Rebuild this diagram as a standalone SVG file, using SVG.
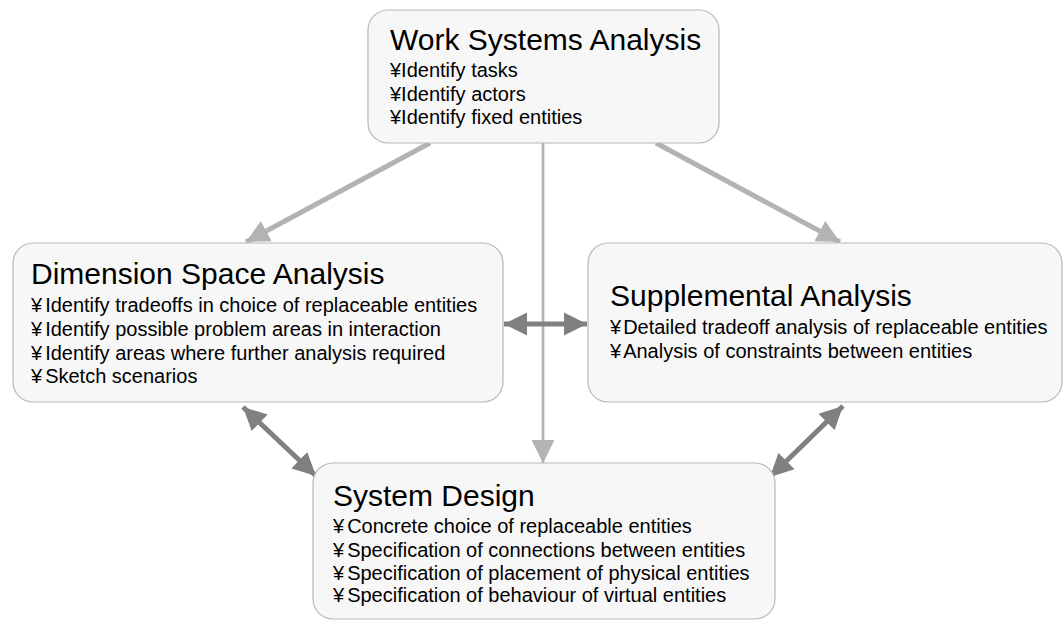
<svg xmlns="http://www.w3.org/2000/svg" width="1064" height="621" viewBox="0 0 1064 621">
<style>
.box{fill:#f7f7f7;stroke:#b8b8b8;stroke-width:1.2}
.t{font-family:"Liberation Sans",Arial,sans-serif;fill:#000}
.h{font-size:30px}
.b{font-size:20px}
.lc{stroke:#b3b3b3;fill:none}
.dc{stroke:#808080;fill:none;stroke-width:5}
</style>
<defs>
<marker id="al" viewBox="0 0 10 10" refX="10" refY="5" markerWidth="4.6" markerHeight="5" markerUnits="strokeWidth" orient="auto"><path d="M0,0 L10,5 L0,10 z" fill="#b3b3b3"/></marker>
<marker id="alt" viewBox="0 0 10 10" refX="10" refY="5" markerWidth="9" markerHeight="8.5" markerUnits="strokeWidth" orient="auto"><path d="M0,0 L10,5 L0,10 z" fill="#b3b3b3"/></marker>
<marker id="ad" viewBox="0 0 10 10" refX="10" refY="5" markerWidth="4.6" markerHeight="5.2" markerUnits="strokeWidth" orient="auto-start-reverse"><path d="M0,0 L10,5 L0,10 z" fill="#808080"/></marker>
</defs>
<g id="connectors">
<line class="lc" x1="430" y1="143" x2="246" y2="242" stroke-width="5" marker-end="url(#al)"/>
<line class="lc" x1="656" y1="143" x2="840" y2="242" stroke-width="5" marker-end="url(#al)"/>
<line class="lc" x1="543" y1="143" x2="543" y2="463" stroke-width="2.7" marker-end="url(#alt)"/>
<line class="dc" x1="504" y1="324" x2="587" y2="324" marker-start="url(#ad)" marker-end="url(#ad)"/>
<line class="dc" x1="243" y1="407" x2="316" y2="476" marker-start="url(#ad)" marker-end="url(#ad)"/>
<line class="dc" x1="843" y1="406" x2="770" y2="477" marker-start="url(#ad)" marker-end="url(#ad)"/>
</g>
<g id="work">
<rect class="box" x="368" y="10" width="351" height="133" rx="20"/>
<text class="t h" x="390" y="50">Work Systems Analysis</text>
<text class="t b" x="390" y="77">¥Identify tasks</text>
<text class="t b" x="390" y="100.5">¥Identify actors</text>
<text class="t b" x="390" y="124">¥Identify fixed entities</text>
</g>
<g id="dimension">
<rect class="box" x="13" y="243" width="490" height="159" rx="20"/>
<text class="t h" x="31" y="284">Dimension Space Analysis</text>
<text class="t b" x="31" y="312">¥<tspan dx="3">Identify tradeoffs in choice of replaceable entities</tspan></text>
<text class="t b" x="31" y="336">¥<tspan dx="3">Identify possible problem areas in interaction</tspan></text>
<text class="t b" x="31" y="360">¥<tspan dx="3">Identify areas where further analysis required</tspan></text>
<text class="t b" x="31" y="383">¥<tspan dx="3">Sketch scenarios</tspan></text>
</g>
<g id="supplemental">
<rect class="box" x="588" y="243" width="474" height="159" rx="20"/>
<text class="t h" x="610" y="306">Supplemental Analysis</text>
<text class="t b" x="610" y="334">¥<tspan dx="2">Detailed tradeoff analysis of replaceable entities</tspan></text>
<text class="t b" x="610" y="358">¥<tspan dx="2">Analysis of constraints between entities</tspan></text>
</g>
<g id="design">
<rect class="box" x="313" y="463" width="462" height="156" rx="20"/>
<text class="t h" x="333" y="506">System Design</text>
<text class="t b" x="333" y="533">¥<tspan dx="3">Concrete choice of replaceable entities</tspan></text>
<text class="t b" x="333" y="557">¥<tspan dx="3">Specification of connections between entities</tspan></text>
<text class="t b" x="333" y="580">¥<tspan dx="3">Specification of placement of physical entities</tspan></text>
<text class="t b" x="333" y="602">¥<tspan dx="3">Specification of behaviour of virtual entities</tspan></text>
</g>
</svg>
